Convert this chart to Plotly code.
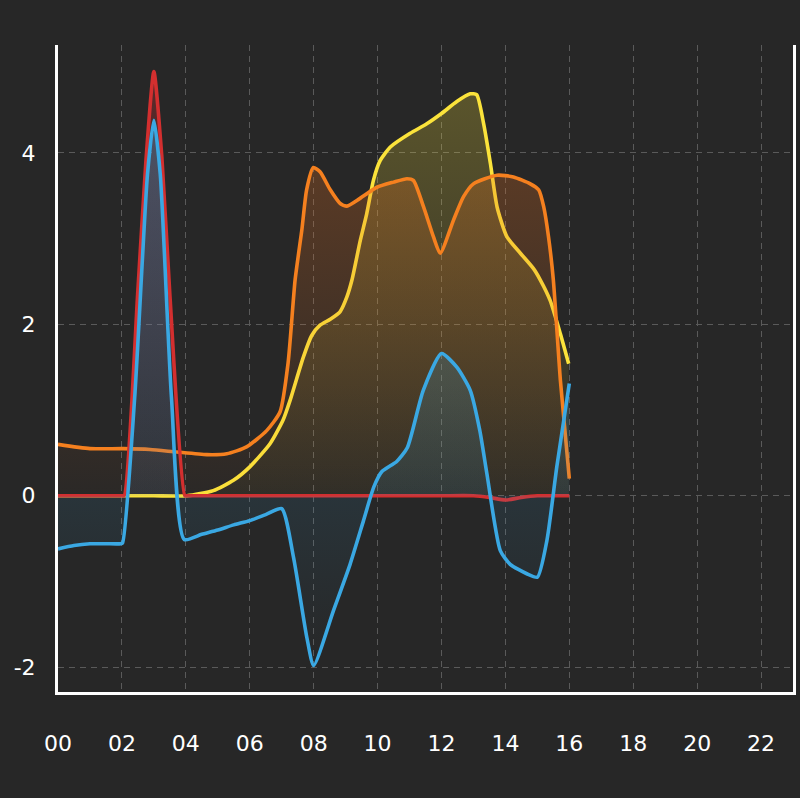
import plotly.graph_objects as go

# ---- data (hours of day -> value) ----
red_hours = [0, 1, 2, 2.07, 2.5, 2.75, 3.0, 3.25, 3.5, 3.97, 4.05, 5, 6, 7, 8, 9, 10, 11, 12, 13, 13.5, 14, 14.5, 15, 15.5, 16]
red_vals = [0, 0, 0, 0, 2.4, 3.9, 4.95, 3.95, 2.35, 0, 0, 0, 0, 0, 0, 0, 0, 0, 0, 0, -0.02, -0.05, -0.02, 0, 0, 0]

blue_hours = [0, 0.5, 1, 1.5, 1.96, 2.02, 2.4, 2.8, 3.0, 3.2, 3.55, 3.95, 4.5, 5, 5.5, 6, 6.5, 7.0, 7.37, 7.79, 8.0, 8.62,
              9.14, 9.56, 9.88, 10.13, 10.6, 10.93, 11.43, 12.0, 12.48, 12.9, 13.2, 13.42, 13.84, 14.15, 14.67, 15.0, 15.3,
              15.61, 16.0]
blue_vals = [-0.62, -0.58, -0.56, -0.56, -0.56, -0.55, 1.15, 3.75, 4.38, 3.75, 1.15, -0.51, -0.45, -0.4, -0.34, -0.29, -0.22,
             -0.15, -0.72, -1.66, -1.98, -1.34, -0.8, -0.29, 0.1, 0.28, 0.4, 0.56, 1.23, 1.66, 1.5, 1.23, 0.76, 0.26, -0.64,
             -0.8, -0.91, -0.95, -0.52, 0.34, 1.31]

yellow_hours = [0, 1, 2, 3, 4.03, 4.86, 5.49, 6.01, 6.64, 7.04, 7.26, 7.68, 7.94, 8.2, 8.52, 8.83, 9.04, 9.2, 9.46, 9.66, 9.87,
                10.08, 10.4, 11.02, 11.54, 12.0, 12.48, 12.9, 13.1, 13.32, 13.53, 13.74, 14.05, 14.47, 14.88, 15.09, 15.4,
                15.72, 15.98]
yellow_vals = [0, 0, 0, 0, 0, 0.06, 0.18, 0.34, 0.61, 0.88, 1.11, 1.62, 1.87, 1.99, 2.06, 2.15, 2.32, 2.52, 2.98, 3.29, 3.68,
               3.91, 4.07, 4.23, 4.34, 4.46, 4.6, 4.69, 4.68, 4.34, 3.88, 3.37, 3.02, 2.83, 2.65, 2.52, 2.28, 1.89, 1.54]

orange_hours = [0, 1, 2.04, 2.88, 3.72, 4.66, 5.28, 5.9, 6.53, 6.95, 7.2, 7.42, 7.63, 7.78, 7.99, 8.2, 8.52, 8.83, 9.04,
                9.45, 9.98, 10.5, 10.92, 11.12, 11.44, 11.75, 11.96, 12.38, 12.69, 13.0, 13.74, 14.25, 14.78, 15.04, 15.2,
                15.35, 15.5, 15.72, 16.0]
orange_vals = [0.6, 0.55, 0.55, 0.54, 0.51, 0.48, 0.49, 0.57, 0.76, 0.98, 1.55, 2.52, 3.1, 3.57, 3.83, 3.78, 3.57, 3.41, 3.38,
               3.47, 3.6, 3.66, 3.7, 3.68, 3.37, 3.02, 2.83, 3.22, 3.49, 3.64, 3.74, 3.72, 3.64, 3.57, 3.37, 3.02, 2.52, 1.35,
               0.2]

x_tick_vals = list(range(0, 23, 2))
x_tick_text = [f"{h:02d}" for h in x_tick_vals]
y_tick_vals = [-2, 0, 2, 4]
y_tick_text = ["-2", "0", "2", "4"]

BG = "#272727"
GRID = "#5a5a5a"

series = [
    ("yellow", yellow_hours, yellow_vals, "#fbe33b", (253, 229, 58), 0.03, 0.24, 0, 4.7),
    ("orange", orange_hours, orange_vals, "#f5801f", (230, 112, 32), 0.02, 0.27, 0, 3.85),
    ("red", red_hours, red_vals, "#d32f2f", (211, 47, 47), 0.04, 0.3, 0, 4.95),
    ("blue", blue_hours, blue_vals, "#3aa8e3", (58, 168, 227), 0.0, 0.32, -2, 4.4),
]

fig = go.Figure()
for name, xs, ys, lc, fc, a0, a1, s0, s1 in series:
    r, g, b = fc
    fig.add_trace(go.Scatter(
        x=xs, y=ys, name=name, mode="lines",
        line=dict(color=lc, width=3.6, shape="spline", smoothing=0.6),
        fill="tozeroy",
        fillgradient=dict(type="vertical", start=s0, stop=s1,
                          colorscale=[[0, f"rgba({r},{g},{b},{a0})"], [1, f"rgba({r},{g},{b},{a1})"]]),
        hoverinfo="skip", showlegend=False,
    ))

FONT = "DejaVu Sans, Inter, sans-serif"
fig.update_layout(
    width=800, height=798,
    margin=dict(l=58, r=7, t=45, b=106),
    paper_bgcolor=BG, plot_bgcolor=BG,
    font=dict(family=FONT, color="white", size=22),
    showlegend=False,
)
fig.update_xaxes(
    range=[0, 23], tickvals=x_tick_vals, ticktext=x_tick_text, automargin=False,
    showgrid=True, gridcolor=GRID, gridwidth=1, griddash="6px,5px",
    zeroline=False, showline=True, linecolor="white", linewidth=3,
    ticks="outside", ticklen=30, tickcolor="rgba(0,0,0,0)",
    tickfont=dict(family=FONT, size=22, color="white"),
)
fig.update_yaxes(
    range=[-2.29, 5.26], tickvals=y_tick_vals, ticktext=y_tick_text, automargin=False,
    showgrid=True, gridcolor=GRID, gridwidth=1, griddash="6px,5px",
    zeroline=False, showline=True, linecolor="white", linewidth=3, mirror=True,
    ticks="outside", ticklen=15, tickcolor="rgba(0,0,0,0)",
    tickfont=dict(family=FONT, size=22, color="white"),
)

fig.write_html("out.html")
